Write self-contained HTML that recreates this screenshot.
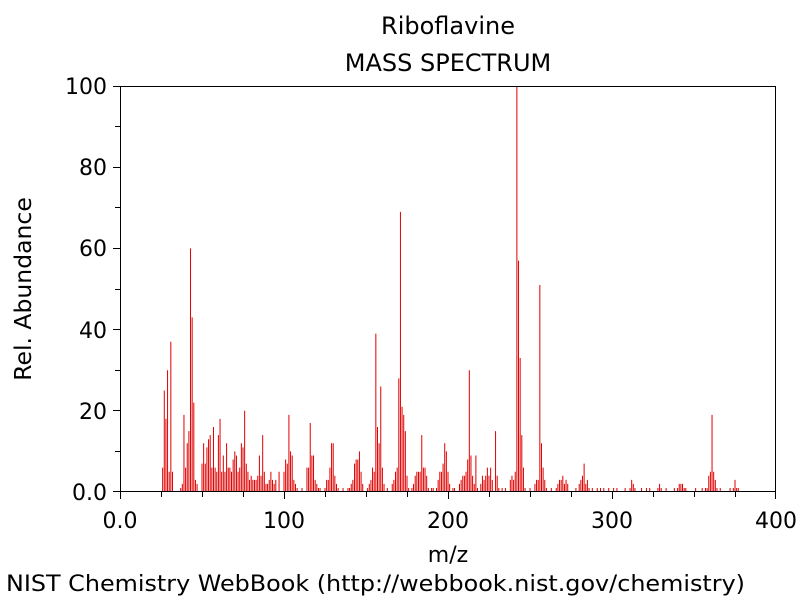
<!DOCTYPE html>
<html><head><meta charset="utf-8"><style>
body{margin:0;background:#fff;}
svg{display:block;font-family:"DejaVu Sans","Liberation Sans",sans-serif;}
</style></head><body>
<svg width="800" height="600" xmlns="http://www.w3.org/2000/svg">
<text x="448" y="34" font-size="24" text-anchor="middle">Riboflavine</text>
<text x="448" y="71" font-size="24" text-anchor="middle">MASS SPECTRUM</text>
<g transform="translate(120,492) scale(1.64,-4.06)">
<path fill="none" stroke="#e00000" stroke-width="1" vector-effect="non-scaling-stroke" d="M26 0V6M27 0V25M28 0V18M29 0V30M30 0V5M31 0V37M32 0V5M37 0V1M38 0V2M39 0V19M40 0V6M41 0V12M42 0V15M43 0V60M44 0V43M45 0V22M46 0V3M47 0V2M50 0V7M51 0V12M52 0V7M53 0V11M54 0V13M55 0V14M56 0V6M57 0V16M58 0V6M59 0V5M60 0V14M61 0V18M62 0V5M63 0V9M64 0V5M65 0V12M66 0V6M67 0V6M68 0V5M69 0V8M70 0V10M71 0V9M72 0V5M73 0V6M74 0V12M75 0V11M76 0V20M77 0V7M78 0V5M79 0V3M80 0V4M81 0V3M82 0V3M83 0V3M84 0V4M85 0V9M86 0V4M87 0V14M88 0V5M89 0V2M90 0V2M91 0V3M92 0V5M93 0V3M94 0V2M95 0V3M97 0V5M100 0V5M101 0V8M102 0V7M103 0V19M104 0V10M105 0V9M106 0V3M107 0V2M108 0V1M111 0V1M114 0V6M115 0V6M116 0V17M117 0V9M118 0V9M119 0V3M120 0V2M121 0V1M122 0V1M125 0V1M126 0V3M127 0V3M128 0V6M129 0V12M130 0V12M131 0V4M132 0V2M133 0V1M136 0V1M139 0V1M140 0V1M141 0V2M142 0V3M143 0V7M144 0V8M145 0V8M146 0V10M147 0V5M148 0V2
M151 0V1M152 0V2M153 0V3M154 0V6M155 0V5M156 0V39M157 0V16M158 0V12M159 0V26M160 0V6M161 0V2M163 0V1M166 0V2M167 0V3M168 0V5M169 0V6M170 0V28M171 0V69M172 0V21M173 0V19M174 0V15M175 0V4M176 0V1M178 0V1M179 0V2M180 0V4M181 0V5M182 0V5M183 0V5M184 0V14M185 0V6M186 0V6M187 0V4M188 0V1M190 0V1M191 0V1M193 0V1M194 0V3M195 0V5M196 0V5M197 0V7M198 0V12M199 0V10M200 0V5M201 0V2M203 0V1M204 0V1M207 0V2M208 0V3M209 0V4M210 0V4M211 0V5M212 0V8M213 0V30M214 0V9M215 0V4M216 0V2M217 0V9M218 0V1M220 0V2M221 0V4M222 0V3M223 0V4M224 0V6M225 0V4M226 0V6M227 0V3M229 0V15M230 0V4M231 0V1M233 0V1M235 0V1
M238 0V3M239 0V4M240 0V3M241 0V5M242 0V100M243 0V57M244 0V33M245 0V14M246 0V6M247 0V1M250 0V1M253 0V2M254 0V3M255 0V3M256 0V51M257 0V12M258 0V6M259 0V3M260 0V1M263 0V1M266 0V1M267 0V2M268 0V3M269 0V3M270 0V4M271 0V2M272 0V3M273 0V2M278 0V1M280 0V2M281 0V3M282 0V4M283 0V7M284 0V2M285 0V3M286 0V1M288 0V1M291 0V1M293 0V1M295 0V1M298 0V1M301 0V1M303 0V1M308 0V1M311 0V1M312 0V3M313 0V2M314 0V1M318 0V1M321 0V1M323 0V1M328 0V1M329 0V2M330 0V1M333 0V1M338 0V1M340 0V1M341 0V2M342 0V2M343 0V2M344 0V1M345 0V1
M351 0V1M355 0V1M357 0V1M358 0V1M359 0V4M360 0V5M361 0V19M362 0V5M363 0V3M364 0V1M366 0V1M372 0V1M374 0V1M375 0V3M376 0V1M377 0V1"/>
</g>
<rect x="120.5" y="86.5" width="655" height="405" fill="none" stroke="#000" stroke-width="1"/>
<path fill="none" stroke="#000" stroke-width="1" d="M120.5 492V499M161.5 492V497M202.5 492V497M243.5 492V497M284.5 492V499M325.5 492V497M366.5 492V497M407.5 492V497M448.5 492V499M489.5 492V497M530.5 492V497M571.5 492V497M612.5 492V499M653.5 492V497M694.5 492V497M735.5 492V497M775.5 492V499
M113 491.5H120M115 451.5H120M113 410.5H120M115 370.5H120M113 329.5H120M115 289.5H120M113 248.5H120M115 207.5H120M113 167.5H120M115 126.5H120M113 86.5H120"/>
<g font-size="22" text-anchor="end">
<text x="107" y="94">100</text><text x="107" y="175">80</text><text x="107" y="256">60</text>
<text x="107" y="338">40</text><text x="107" y="419">20</text><text x="107" y="500">0.0</text>
</g>
<g font-size="22" text-anchor="middle">
<text x="120" y="528">0.0</text><text x="284" y="528">100</text><text x="448" y="528">200</text>
<text x="612" y="528">300</text><text x="776" y="528">400</text>
</g>
<text x="448" y="562" font-size="22" text-anchor="middle">m/z</text>
<text transform="translate(31,289) rotate(-90)" font-size="23.5" text-anchor="middle">Rel. Abundance</text>
<text x="6" y="591" font-size="22.5" textLength="739" lengthAdjust="spacingAndGlyphs">NIST Chemistry WebBook (http://webbook.nist.gov/chemistry)</text>
</svg>
</body></html>
